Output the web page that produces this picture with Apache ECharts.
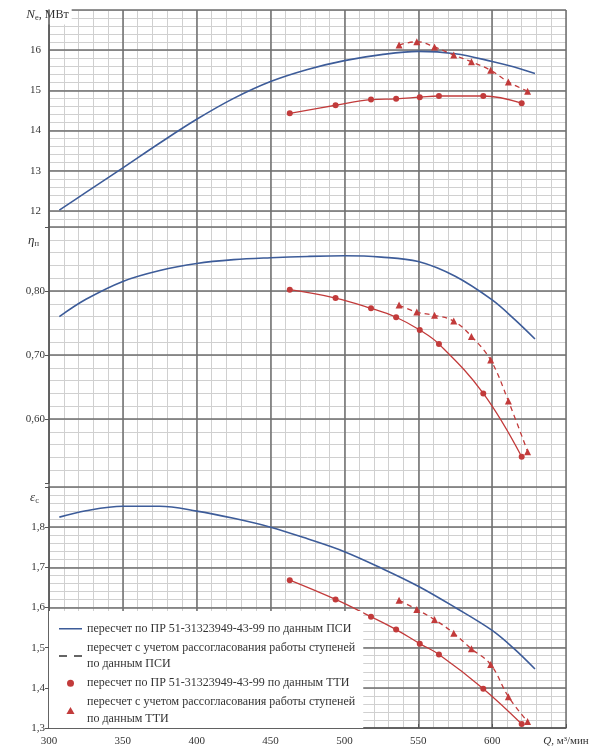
<!DOCTYPE html>
<html><head><meta charset="utf-8">
<script src="https://cdn.jsdelivr.net/npm/echarts@6/dist/echarts.min.js"></script>
<style>html,body{margin:0;padding:0;background:#fff}#c{width:601px;height:755px}</style>
</head><body><div id="c"></div>
<script>
// ---- data ----
const qPsi   = [307, 325, 350, 375, 400, 425, 450, 475, 500, 525, 550, 575, 600, 615, 629];
const nePsi  = [12.02, 12.46, 13.07, 13.69, 14.28, 14.80, 15.22, 15.52, 15.74, 15.89, 15.97, 15.91, 15.72, 15.58, 15.42];
const etaPsi = [0.760, 0.787, 0.815, 0.832, 0.843, 0.849, 0.852, 0.854, 0.855, 0.853, 0.846, 0.823, 0.786, 0.756, 0.725];
const epsPsi = [1.825, 1.841, 1.852, 1.852, 1.840, 1.822, 1.800, 1.771, 1.739, 1.698, 1.653, 1.600, 1.543, 1.497, 1.447];

const qTti   = [463, 494, 518, 535, 551, 564, 594, 620];
const neTti  = [14.43, 14.63, 14.77, 14.79, 14.83, 14.86, 14.86, 14.68];
const etaTti = [0.802, 0.789, 0.773, 0.759, 0.739, 0.717, 0.640, 0.541];
const epsTti = [1.668, 1.620, 1.577, 1.545, 1.510, 1.483, 1.398, 1.310];

const qTtiC   = [537, 549, 561, 574, 586, 599, 611, 624];
const neTtiC  = [16.13, 16.21, 16.08, 15.88, 15.71, 15.50, 15.21, 14.98];
const etaTtiC = [0.778, 0.767, 0.762, 0.753, 0.729, 0.692, 0.628, 0.549];
const epsTtiC = [1.618, 1.595, 1.570, 1.536, 1.497, 1.458, 1.378, 1.316];

const xTicks   = [300, 350, 400, 450, 500, 550, 600];
const neTicks  = [12, 13, 14, 15, 16];
const etaTicks = [0.60, 0.70, 0.80];
const epsTicks = [1.3, 1.4, 1.5, 1.6, 1.7, 1.8];

const legendNames = [
  'пересчет по ПР 51-31323949-43-99 по данным ПСИ',
  'пересчет с учетом рассогласования работы ступеней\nпо данным ПСИ',
  'пересчет по ПР 51-31323949-43-99 по данным ТТИ',
  'пересчет с учетом рассогласования работы ступеней\nпо данным ТТИ'
];

// ---- styling ----
const FONT = 'Liberation Serif';
const BLUE = '#3d5c99', RED = '#c23b3b', DARK = '#333';
const MAJOR = '#6e6e6e', MINOR = '#d0d0d0', CLEAR = 'rgba(0,0,0,0)';
const pair = (xs, ys) => xs.map((x, i) => [x, ys[i]]);
const has = (arr, v) => arr.some(t => Math.abs(t - v) < 1e-6);
const rich = {
  i: {fontFamily: FONT, fontStyle: 'italic', fontSize: 13, color: DARK, lineHeight: 15},
  s: {fontFamily: FONT, fontSize: 8.5, color: DARK, verticalAlign: 'bottom', lineHeight: 10},
  n: {fontFamily: FONT, fontSize: 12, color: DARK, lineHeight: 15}
};
const labelStyle = {fontFamily: FONT, fontSize: 11, color: DARK};

const grids = [
  {left: 49, right: 35, top: 10, height: 217, outerBoundsMode: 'none'},
  {left: 49, right: 35, top: 227, height: 256, outerBoundsMode: 'none'},
  {left: 49, right: 35, top: 487, height: 241, outerBoundsMode: 'none'},
  {left: 49, right: 35, top: 10, bottom: 27, outerBoundsMode: 'none'}
];

const hiddenX = gi => ({type: 'value', gridIndex: gi, min: 300, max: 650, interval: 50, show: false});
const xAxes = [
  hiddenX(0), hiddenX(1),
  {type: 'value', gridIndex: 2, min: 300, max: 650, interval: 50, z: 2,
   axisLine: {show: true, lineStyle: {color: '#555', width: 1.5}},
   axisTick: {show: true, inside: true, length: 4, lineStyle: {color: '#555'}},
   splitLine: {show: false},
   axisLabel: {...labelStyle, margin: 8, rich: {i: {fontFamily: FONT, fontStyle: 'italic', fontSize: 11, color: DARK}},
     formatter: v => v === 650 ? '{i|Q}, м³/мин' : (has(xTicks, v) ? String(v) : '')}},
  {type: 'value', gridIndex: 3, min: 300, max: 650, interval: 50, z: 1,
   axisLine: {show: false}, axisTick: {show: false}, axisLabel: {show: false},
   splitLine: {show: true, lineStyle: {color: MAJOR, width: 1.5}}},
  {type: 'value', gridIndex: 3, min: 300, max: 650, interval: 10, z: 0, position: 'top',
   axisLine: {show: false}, axisTick: {show: false}, axisLabel: {show: false},
   splitLine: {show: true, lineStyle: {color: MINOR, width: 1}}}
];

const minorY = (gi, min, max, interval, showMin) => ({
  type: 'value', gridIndex: gi, min, max, interval, z: 0, position: 'right',
  axisLine: {show: false}, axisTick: {show: false}, axisLabel: {show: false},
  splitLine: {show: true, showMinLine: showMin, lineStyle: {color: MINOR, width: 1}}
});
const nameCommon = {nameLocation: 'end', nameMoveOverlap: false};

const yAxes = [
  {type: 'value', gridIndex: 0, min: 11.6, max: 17, interval: 0.2, z: 1, position: 'left',
   ...nameCommon, name: '{i|N}{s|e}{n|, МВт}', nameGap: -5,
   nameTextStyle: {align: 'center', verticalAlign: 'middle', backgroundColor: '#fff', padding: [2, 3, 2, 0], rich},
   axisLine: {show: true, lineStyle: {color: '#555', width: 1.5}},
   axisTick: {show: false},
   axisLabel: {...labelStyle, margin: 8, formatter: v => has(neTicks, v) ? String(Math.round(v)) : ''},
   splitLine: {show: true, lineStyle: {color: [CLEAR, CLEAR, MAJOR, CLEAR, CLEAR], width: 1.5}}},
  minorY(0, 11.6, 17, 0.2, true),
  {type: 'value', gridIndex: 1, min: 0.5, max: 0.9, interval: 0.1, z: 1, position: 'left',
   ...nameCommon, name: '{i|η}{s|п}', nameGap: -14,
   nameTextStyle: {align: 'right', verticalAlign: 'middle', padding: [0, 10, 0, 0], rich},
   axisLine: {show: true, lineStyle: {color: '#555', width: 1.5}},
   axisTick: {show: true, length: 4, lineStyle: {color: '#555'}},
   axisLabel: {...labelStyle, margin: 4, formatter: v => has(etaTicks, v) ? v.toFixed(2).replace('.', ',') : ''},
   splitLine: {show: true, showMinLine: false, lineStyle: {color: MAJOR, width: 1.5}}},
  minorY(1, 0.5, 0.9, 0.02, false),
  {type: 'value', gridIndex: 2, min: 1.3, max: 1.9, interval: 0.1, z: 1, position: 'left',
   ...nameCommon, name: '{i|ε}{s|с}', nameGap: -11,
   nameTextStyle: {align: 'right', verticalAlign: 'middle', padding: [0, 10, 0, 0], rich},
   axisLine: {show: true, lineStyle: {color: '#555', width: 1.5}},
   axisTick: {show: true, length: 4, lineStyle: {color: '#555'}},
   axisLabel: {...labelStyle, margin: 4, formatter: v => has(epsTicks, v) ? v.toFixed(1).replace('.', ',') : ''},
   splitLine: {show: true, lineStyle: {color: MAJOR, width: 1.5}}},
  minorY(2, 1.3, 1.9, 0.02, true),
  {type: 'value', gridIndex: 3, min: 0, max: 1, show: false}
];

const panels = [
  {x: 0, y: 0, psi: nePsi, tti: neTti, ttiC: neTtiC},
  {x: 1, y: 2, psi: etaPsi, tti: etaTti, ttiC: etaTtiC},
  {x: 2, y: 4, psi: epsPsi, tti: epsTti, ttiC: epsTtiC}
];
const series = [];
panels.forEach(p => {
  series.push({type: 'line', name: legendNames[0], xAxisIndex: p.x, yAxisIndex: p.y,
    data: pair(qPsi, p.psi), smooth: 0.35, symbol: 'none', showSymbol: false,
    lineStyle: {color: BLUE, width: 1.6}, itemStyle: {color: BLUE}});
  series.push({type: 'line', name: legendNames[2], xAxisIndex: p.x, yAxisIndex: p.y,
    data: pair(qTti, p.tti), smooth: 0.4, symbol: 'circle', symbolSize: 6,
    lineStyle: {color: RED, width: 1.3}, itemStyle: {color: RED}});
  series.push({type: 'line', name: legendNames[3], xAxisIndex: p.x, yAxisIndex: p.y,
    data: pair(qTtiC, p.ttiC), smooth: 0.4, symbol: 'triangle', symbolSize: 7,
    lineStyle: {color: RED, width: 1.3, type: [5, 4]}, itemStyle: {color: RED}});
});
series.push({type: 'line', name: legendNames[1], xAxisIndex: 0, yAxisIndex: 0, data: [],
  symbol: 'none', lineStyle: {color: DARK, width: 1.4, type: [5, 4]}, itemStyle: {color: DARK}});

const chart = echarts.init(document.getElementById('c'), null, {renderer: 'canvas'});
chart.setOption({
  backgroundColor: '#fff',
  animation: false,
  grid: grids,
  xAxis: xAxes,
  yAxis: yAxes,
  legend: {
    orient: 'vertical', left: 49, top: 611, padding: [9.5, 8, 1, 10],
    backgroundColor: '#fff', itemWidth: 23, itemHeight: 7, itemGap: 2.5, selectedMode: false,
    symbolKeepAspect: true,
    textStyle: {fontFamily: FONT, fontSize: 12, lineHeight: 16.5, color: DARK},
    data: [
      {name: legendNames[0], icon: 'path://M0,0H24V1.6H0Z'},
      {name: legendNames[1], icon: 'path://M0,0H8V1.6H0Z M15,0H23V1.6H15Z'},
      {name: legendNames[2], icon: 'circle'},
      {name: legendNames[3], icon: 'path://M0,10L5.77,0L11.55,10Z'}
    ]
  },
  series
});
</script></body></html>
